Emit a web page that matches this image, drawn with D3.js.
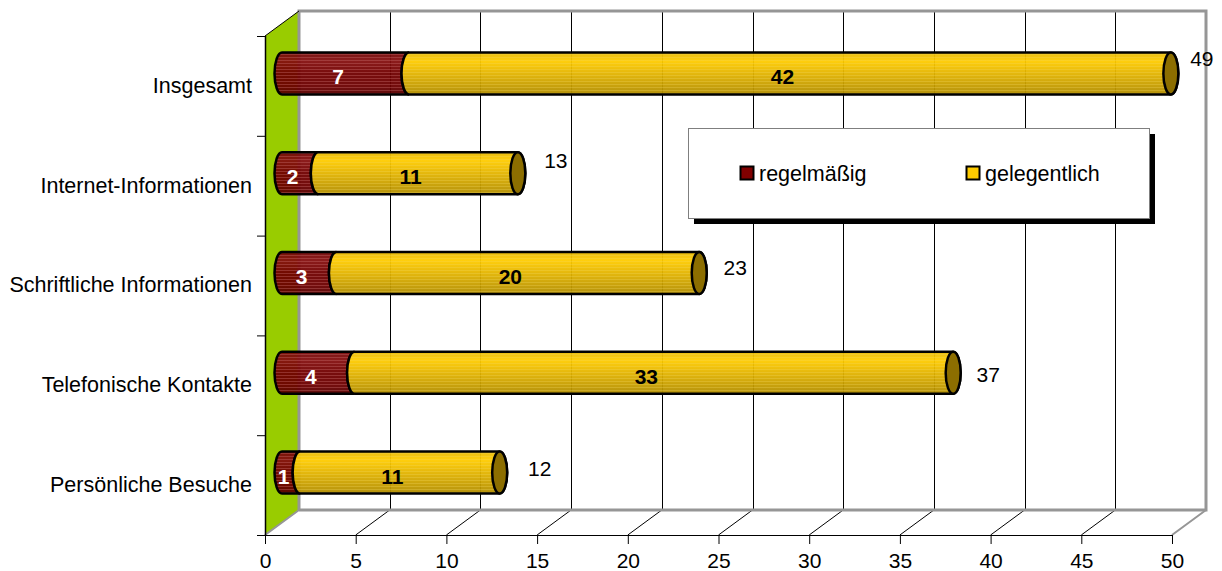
<!DOCTYPE html>
<html><head><meta charset="utf-8">
<script src="https://cdn.jsdelivr.net/npm/d3@7"></script>
<style>html,body{margin:0;padding:0;background:#fff}svg{display:block}text{font-family:"Liberation Sans",Arial,sans-serif}</style>
</head><body><div id="chart"></div>
<script>
const categories = ["Insgesamt","Internet-Informationen","Schriftliche Informationen","Telefonische Kontakte","Persönliche Besuche"];
const regelmaessig = [7,2,3,4,1];
const gelegentlich = [42,11,20,33,11];
const totals = [49,13,23,37,12];
const xTicks = [0,5,10,15,20,25,30,35,40,45,50];
const legendLabels = ["regelmäßig","gelegentlich"];
const totalNudgeX = [31,38,36,35,40];
const totalNudgeY = [-14,-12,-5,2,-4];

(function(){
const W=1222,H=571;
const x=d3.scaleLinear().domain([0,50]).range([265,1172]);
const y=d3.scaleBand().domain(categories).range([36,535]);
const dx=34,dy=-25;
const barH=42, rx=7.5;
const catFont=21.5, numFont=21;
const barX=v=>x(v)+dx/2, barY=c=>y(c)+y.bandwidth()/2+dy/2;

const svg=d3.select("#chart").append("svg").attr("width",W).attr("height",H);
const defs=svg.append("defs");
function cyl(id,stops,stripe,op){
  const g=defs.append("linearGradient").attr("id",id).attr("x1",0).attr("y1",0).attr("x2",0).attr("y2",1);
  stops.forEach(s=>g.append("stop").attr("offset",s[0]).attr("stop-color",s[1]));
  const p=defs.append("pattern").attr("id",id+"S").attr("patternUnits","userSpaceOnUse").attr("width",6).attr("height",3);
  p.append("rect").attr("width",6).attr("height",1).attr("fill",stripe).attr("opacity",op);
}
cyl("red",[[0,"#740808"],[.2,"#861010"],[.5,"#700000"],[.8,"#6c0000"],[1,"#560000"]],"#c46a6a",.4);
cyl("yel",[[0,"#e6b808"],[.2,"#ffcc00"],[.45,"#e8b800"],[.7,"#cfa400"],[1,"#b08c00"]],"#f2d860",.3);

const back=v=>x(v)+dx;
const crisp=v=>Math.round(v)+.5;
svg.append("polygon").attr("fill","#99cc00")
  .attr("points",[[x(0),y.range()[0]],[back(0),y.range()[0]+dy],[back(0),y.range()[1]+dy],[x(0),y.range()[1]]].join(" "));
const topY=y.range()[0]+dy, bot=y.range()[1]+dy, front=y.range()[1];
const grid=svg.append("g");
xTicks.slice(1,-1).forEach(t=>{
  grid.append("line").attr("x1",crisp(back(t))).attr("x2",crisp(back(t))).attr("y1",topY).attr("y2",bot).attr("stroke","#000");
  grid.append("line").attr("x1",x(t)).attr("x2",back(t)).attr("y1",front).attr("y2",bot).attr("stroke","#000");
});
svg.append("path").attr("fill","none").attr("stroke","#969696").attr("stroke-width",3)
  .attr("d",`M${back(0)},${bot}V${topY}H${back(50)}V${bot}H${back(0)}`);
svg.append("path").attr("fill","none").attr("stroke","#969696").attr("stroke-width",2)
  .attr("d",`M${x(0)},${front}L${back(0)},${bot}M${x(50)},${front}L${back(50)},${bot}`);
svg.append("line").attr("x1",x(0)).attr("y1",y.range()[0]).attr("x2",back(0)).attr("y2",topY).attr("stroke","#000");

const xAxis=d3.axisBottom(x).tickValues(xTicks).tickSize(9).tickPadding(9);
const gx=svg.append("g").attr("transform",`translate(0,${front})`).call(xAxis);
gx.select(".domain").attr("d",`M${x(0)-8},0.5H${x(50)}`).attr("stroke","#000");
gx.selectAll("text").attr("font-size",numFont).attr("fill","#000").attr("font-family","Liberation Sans");
const yAxis=d3.axisLeft(y).tickSize(0).tickPadding(13);
const gy=svg.append("g").attr("transform",`translate(${x(0)},0)`).call(yAxis);
gy.select(".domain").attr("d",`M0.5,${y.range()[0]}V${y.range()[1]}`).attr("stroke","#000").attr("stroke-width",1.5);
gy.selectAll("text").attr("font-size",catFont).attr("fill","#000").attr("font-family","Liberation Sans");
[...categories.map(c=>y(c)),y.range()[1]].forEach(v=>svg.append("line").attr("x1",x(0)-8).attr("x2",x(0)).attr("y1",v+.5).attr("y2",v+.5).attr("stroke","#000"));

function seg(g,x0,x1,cy,fill,sweepEnd){
  const t=cy-barH/2,b=cy+barH/2;
  const d=`M${x0},${t}H${x1}A${rx},${barH/2} 0 0 ${sweepEnd} ${x1},${b}H${x0}A${rx},${barH/2} 0 0 1 ${x0},${t}Z`;
  g.append("path").attr("d",d).attr("fill",`url(#${fill})`).attr("fill-opacity",.95);
  g.append("path").attr("d",d).attr("fill",`url(#${fill}S)`);
  g.append("path").attr("d",d).attr("fill","none").attr("stroke","#000").attr("stroke-width",2.5);
}
categories.forEach((c,i)=>{
  const cy=barY(c),g=svg.append("g");
  const a=barX(0),m=barX(regelmaessig[i]),e=barX(regelmaessig[i]+gelegentlich[i]);
  seg(g,a,m,cy,"red",0);
  seg(g,m,e,cy,"yel",1);
  g.append("ellipse").attr("cx",e).attr("cy",cy).attr("rx",rx).attr("ry",barH/2)
    .attr("fill","#8c6e00").attr("stroke","#000").attr("stroke-width",2.5);
  const lab=(v,xx,col)=>g.append("text").attr("x",xx).attr("y",cy+11).attr("text-anchor","middle")
    .attr("font-size",numFont).attr("font-weight","bold").attr("fill",col).text(v);
  lab(regelmaessig[i],(a+m)/2-rx,"#fff");
  lab(gelegentlich[i],(m+e)/2-rx,"#000");
  svg.append("text").attr("x",e+totalNudgeX[i]).attr("y",cy+totalNudgeY[i]+7).attr("text-anchor","middle")
    .attr("font-size",numFont).attr("fill","#000").text(totals[i]);
});

const leg=svg.append("g");
leg.append("rect").attr("x",694).attr("y",134).attr("width",461).attr("height",90).attr("fill","#000");
leg.append("rect").attr("x",688.5).attr("y",128.5).attr("width",461).attr("height",90).attr("fill","#fff").attr("stroke","#7f7f7f");
[["#800000",740.5],["#ffcc00",966.5]].forEach((s,i)=>{
  leg.append("rect").attr("x",s[1]).attr("y",166.5).attr("width",13).attr("height",13).attr("fill",s[0]).attr("stroke","#000").attr("stroke-width",2);
  leg.append("text").attr("x",s[1]+18.5).attr("y",181).attr("font-size",catFont).attr("fill","#000").text(legendLabels[i]);
});
})();
</script></body></html>
